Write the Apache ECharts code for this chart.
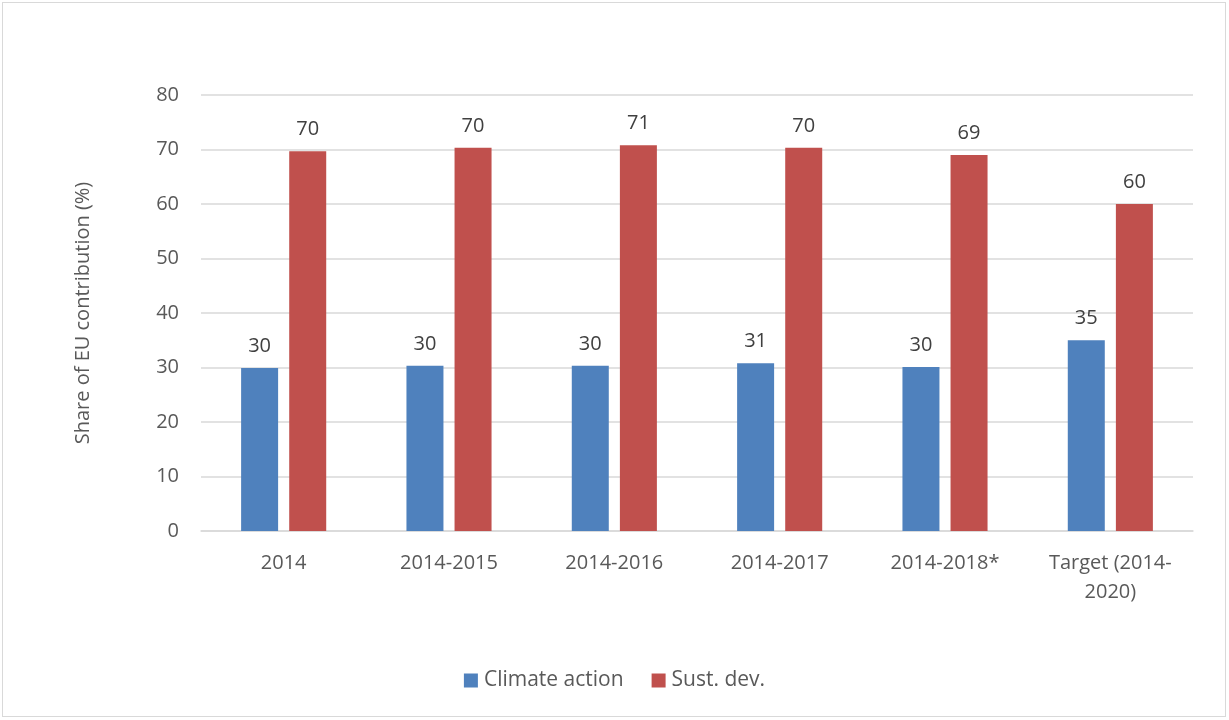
<!DOCTYPE html>
<html>
<head>
<meta charset="utf-8">
<script src="https://cdn.jsdelivr.net/npm/echarts@6/dist/echarts.min.js"></script>
<style>
  html, body { margin: 0; padding: 0; background: #fff; }
  #frame { position: absolute; left: 2px; top: 2px; width: 1224px; height: 715px; border: 1px solid #d9d9d9; box-sizing: border-box; }
  #chart { position: absolute; left: 0; top: 0; width: 1229px; height: 720px; }
</style>
</head>
<body>
<div id="frame"></div>
<div id="chart"></div>
<script>
// Periods reported
const categories = ['2014', '2014-2015', '2014-2016', '2014-2017', '2014-2018*', 'Target (2014-\n2020)'];
// Share of EU contribution (%)
const climateAction = [29.9, 30.3, 30.3, 30.8, 30.1, 35.0];
const sustDev = [69.7, 70.3, 70.8, 70.3, 69.0, 60.0];
const yTicks = { min: 0, max: 80, interval: 10 };

const FONT = '"Open Sans", "Liberation Sans", sans-serif';

const chart = echarts.init(document.getElementById('chart'), null, { renderer: 'canvas' });

const labelStyle = {
  show: true,
  position: 'top',
  distance: 12,
  color: '#404040',
  fontSize: 20,
  fontFamily: FONT,
  formatter: p => Math.round(p.value)
};

chart.setOption({
  animation: false,
  grid: { left: 201, right: 36, top: 95, bottom: 189, containLabel: false },
  legend: {
    bottom: 24,
    left: 'center',
    itemWidth: 14,
    itemHeight: 14,
    itemGap: 28,
    icon: 'rect',
    textStyle: { color: '#595959', fontSize: 21, fontFamily: FONT, padding: [0, 0, 0, 1] },
    data: ['Climate action', 'Sust. dev.']
  },
  xAxis: {
    type: 'category',
    data: categories,
    axisLine: { lineStyle: { color: '#d9d9d9', width: 1.5 } },
    axisTick: { show: false },
    axisLabel: { color: '#595959', fontSize: 20, fontFamily: FONT, margin: 18, lineHeight: 29, interval: 0 }
  },
  yAxis: {
    type: 'value',
    min: yTicks.min,
    max: yTicks.max,
    interval: yTicks.interval,
    name: 'Share of EU contribution (%)',
    nameLocation: 'middle',
    nameGap: 108,
    nameRotate: 90,
    nameTextStyle: { color: '#595959', fontSize: 20, fontFamily: FONT },
    axisLine: { show: false },
    axisTick: { show: false },
    axisLabel: { color: '#595959', fontSize: 20, fontFamily: FONT, margin: 22 },
    splitLine: { lineStyle: { color: '#d9d9d9', width: 1.5 } }
  },
  series: [
    {
      name: 'Climate action',
      type: 'bar',
      data: climateAction,
      barWidth: 37,
      barGap: '30%',
      itemStyle: { color: '#4f81bd' },
      label: labelStyle
    },
    {
      name: 'Sust. dev.',
      type: 'bar',
      data: sustDev,
      barWidth: 37,
      itemStyle: { color: '#c0504d' },
      label: labelStyle
    }
  ]
});
</script>
</body>
</html>
